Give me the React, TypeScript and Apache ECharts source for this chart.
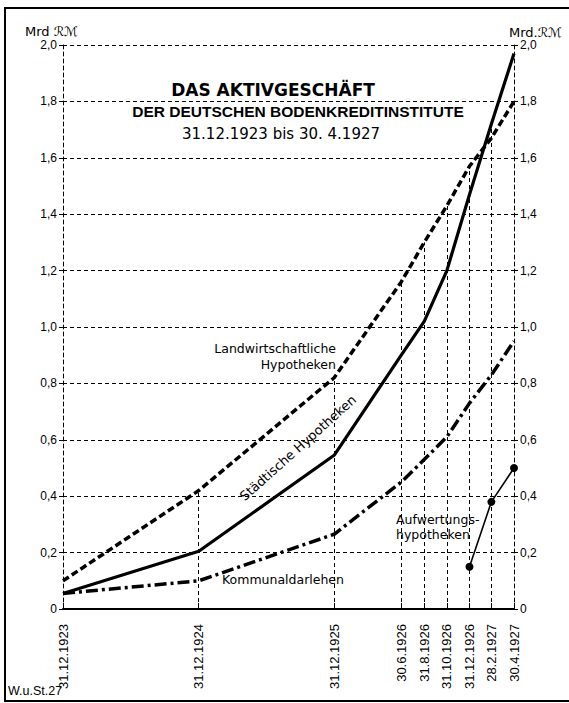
import React, { useEffect, useRef } from "react";
import * as echarts from "echarts";

// ---- data ----
const dates = [
  "1923-12-31",
  "1924-12-31",
  "1925-12-31",
  "1926-06-30",
  "1926-08-31",
  "1926-10-31",
  "1926-12-31",
  "1927-02-28",
  "1927-04-30",
];
const dateLabels = [
  "31.12.1923",
  "31.12.1924",
  "31.12.1925",
  "30.6.1926",
  "31.8.1926",
  "31.10.1926",
  "31.12.1926",
  "28.2.1927",
  "30.4.1927",
];
const landwirtschaftliche = [0.1, 0.42, 0.82, 1.16, 1.3, 1.43, 1.57, 1.67, 1.8];
const staedtische = [0.055, 0.205, 0.545, 0.9, 1.02, 1.2, 1.47, 1.72, 1.97];
const kommunal = [0.055, 0.1, 0.265, 0.45, 0.53, 0.61, 0.73, 0.83, 0.95];
const aufwertung: (number | null)[] = [null, null, null, null, null, null, 0.15, 0.38, 0.5];
const yMin = 0;
const yMax = 2;
const yStep = 0.2;

const DAY = 86400000;
const t0 = Date.parse(dates[0]);
const days = dates.map((d) => Math.round((Date.parse(d) - t0) / DAY));

const pairs = (vals: (number | null)[]) =>
  vals
    .map((v, i) => (v == null ? null : [days[i], v]))
    .filter((p) => p != null) as number[][];

const tops = days.map((_, i) =>
  Math.max(
    landwirtschaftliche[i],
    staedtische[i],
    kommunal[i],
    aufwertung[i] == null ? 0 : (aufwertung[i] as number)
  )
);

const fmtY = (v: number) => (v === 0 ? "0" : v.toFixed(1).replace(".", ","));

export default function App() {
  const ref = useRef<HTMLDivElement>(null);
  useEffect(() => {
    if (!ref.current) return;
    const chart = echarts.init(ref.current, undefined, { renderer: "svg" });
    const dash = [4, 3];
    const labelFont = "Liberation Sans";
    const annFont = "DejaVu Sans";
    const yAxisCommon = {
      type: "value",
      min: yMin,
      max: yMax,
      interval: yStep,
      axisLine: { show: true, onZero: false, lineStyle: { color: "#000", width: 1, type: dash } },
      axisTick: { show: true, length: 4, lineStyle: { color: "#000", width: 1 } },
      axisLabel: {
        formatter: fmtY,
        margin: 6,
        fontSize: 12,
        color: "#000",
        fontFamily: labelFont,
      },
    };
    const option: any = {
      animation: false,
      backgroundColor: "#fff",
      textStyle: { fontFamily: labelFont, color: "#000" },
      grid: { left: 63, right: 55, top: 45, bottom: 94 },
      xAxis: {
        type: "value",
        min: 0,
        max: days[days.length - 1],
        splitLine: { show: false },
        axisLine: { show: true, lineStyle: { color: "#000", width: 2 } },
        axisTick: {
          show: true,
          inside: true,
          length: 6,
          customValues: days,
          lineStyle: { color: "#000", width: 1 },
        },
        axisLabel: {
          customValues: days,
          rotate: 90,
          margin: 15,
          fontSize: 13,
          color: "#000",
          fontFamily: labelFont,
          formatter: (v: number) => {
            let best = 0;
            days.forEach((d, i) => {
              if (Math.abs(d - v) < Math.abs(days[best] - v)) best = i;
            });
            return dateLabels[best];
          },
        },
      },
      yAxis: [
        {
          ...yAxisCommon,
          position: "left",
          splitLine: { show: true, lineStyle: { color: "#000", width: 1, type: dash } },
        },
        {
          ...yAxisCommon,
          position: "right",
          splitLine: { show: false },
        },
      ],
      series: [
        {
          name: "Landwirtschaftliche Hypotheken",
          type: "line",
          data: pairs(landwirtschaftliche),
          showSymbol: false,
          lineStyle: { color: "#000", width: 3.5, type: [7, 3.5] },
          z: 5,
          markLine: {
            silent: true,
            symbol: "none",
            label: { show: false },
            lineStyle: { color: "#000", width: 1, type: dash },
            data: days
              .slice(1, days.length - 1)
              .map((d, k) => [{ coord: [d, 0] }, { coord: [d, tops[k + 1]] }]),
            z: 1,
          },
        },
        {
          name: "Städtische Hypotheken",
          type: "line",
          data: pairs(staedtische),
          showSymbol: false,
          lineStyle: { color: "#000", width: 3.2 },
          z: 5,
        },
        {
          name: "Kommunaldarlehen",
          type: "line",
          data: pairs(kommunal),
          showSymbol: false,
          lineStyle: { color: "#000", width: 3.5, type: [12, 4, 3, 4] },
          z: 5,
        },
        {
          name: "Aufwertungshypotheken",
          type: "line",
          data: pairs(aufwertung),
          symbol: "circle",
          symbolSize: 8,
          showSymbol: true,
          itemStyle: { color: "#000" },
          lineStyle: { color: "#000", width: 1.6 },
          z: 5,
        },
      ],
      graphic: [
        {
          type: "rect",
          shape: { x: 5, y: 8, width: 620, height: 693 },
          style: { fill: "none", stroke: "#000", lineWidth: 2 },
          silent: true,
        },
        {
          type: "text",
          x: 273,
          y: 90,
          style: {
            text: "DAS AKTIVGESCHÄFT",
            font: "bold 17px 'DejaVu Sans'",
            fill: "#000",
            align: "center",
            verticalAlign: "middle",
          },
        },
        {
          type: "text",
          x: 298,
          y: 111,
          style: {
            text: "DER DEUTSCHEN BODENKREDITINSTITUTE",
            font: "bold 15.5px 'Liberation Sans'",
            fill: "#000",
            align: "center",
            verticalAlign: "middle",
          },
        },
        {
          type: "text",
          x: 281,
          y: 134,
          style: {
            text: "31.12.1923 bis 30. 4.1927",
            font: "15px 'DejaVu Sans'",
            fill: "#000",
            align: "center",
            verticalAlign: "middle",
          },
        },
        {
          type: "text",
          x: 25,
          y: 31,
          style: {
            text: "Mrd ℛℳ",
            font: "13px 'DejaVu Sans'",
            fill: "#000",
            align: "left",
            verticalAlign: "middle",
          },
        },
        {
          type: "text",
          x: 562,
          y: 32,
          style: {
            text: "Mrd.ℛℳ",
            font: "13px 'DejaVu Sans'",
            fill: "#000",
            align: "right",
            verticalAlign: "middle",
          },
        },
        {
          type: "text",
          x: 336,
          y: 348,
          style: {
            text: "Landwirtschaftliche",
            font: `12.5px '${annFont}'`,
            fill: "#000",
            align: "right",
            verticalAlign: "middle",
          },
        },
        {
          type: "text",
          x: 336,
          y: 364,
          style: {
            text: "Hypotheken",
            font: `12.5px '${annFont}'`,
            fill: "#000",
            align: "right",
            verticalAlign: "middle",
          },
        },
        {
          type: "text",
          x: 298,
          y: 448,
          rotation: 0.73,
          style: {
            text: "Städtische Hypotheken",
            font: `13px '${annFont}'`,
            fill: "#000",
            align: "center",
            verticalAlign: "middle",
          },
        },
        {
          type: "text",
          x: 222,
          y: 579,
          style: {
            text: "Kommunaldarlehen",
            font: `12.5px '${annFont}'`,
            fill: "#000",
            align: "left",
            verticalAlign: "middle",
          },
        },
        {
          type: "text",
          x: 396,
          y: 519,
          style: {
            text: "Aufwertungs-",
            font: `12.5px '${annFont}'`,
            fill: "#000",
            align: "left",
            verticalAlign: "middle",
          },
        },
        {
          type: "text",
          x: 396,
          y: 534,
          style: {
            text: "hypotheken",
            font: `12.5px '${annFont}'`,
            fill: "#000",
            align: "left",
            verticalAlign: "middle",
          },
        },
        {
          type: "text",
          x: 8,
          y: 691,
          style: {
            text: "W.u.St.27",
            font: `12.5px '${labelFont}'`,
            fill: "#000",
            align: "left",
            verticalAlign: "middle",
          },
        },
      ],
    };
    chart.setOption(option);
    return () => chart.dispose();
  }, []);
  return (
    <div
      ref={ref}
      style={{ position: "absolute", left: 0, top: 0, width: 569, height: 703, background: "#fff" }}
    />
  );
}
